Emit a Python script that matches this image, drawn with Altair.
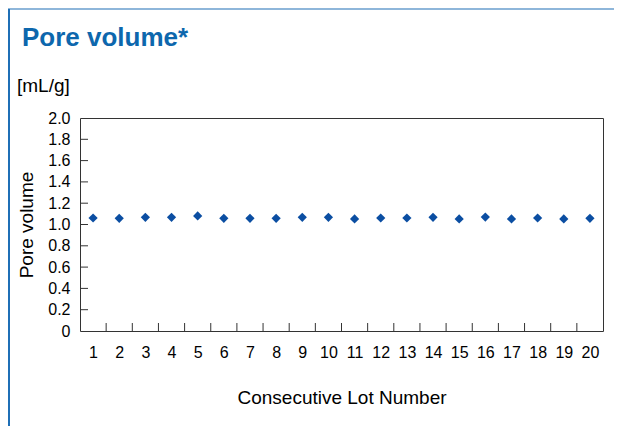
import altair as alt
import pandas as pd

# ---- data ----
lots = list(range(1, 21))
pore_volume = [1.061, 1.058, 1.067, 1.067, 1.080, 1.058, 1.058, 1.058, 1.067, 1.067,
               1.052, 1.061, 1.061, 1.067, 1.052, 1.070, 1.052, 1.061, 1.052, 1.058]
y_ticks = [0, 0.2, 0.4, 0.6, 0.8, 1.0, 1.2, 1.4, 1.6, 1.8, 2.0]
title_text = "Pore volume*"
unit_text = "[mL/g]"
x_title = "Consecutive Lot Number"
y_title = "Pore volume"

FONT = "Liberation Sans"
W, H = 523, 213

df = pd.DataFrame({"lot": lots, "pv": pore_volume})
xbound = pd.DataFrame({"b": [l + 0.5 for l in lots[:-1]]})
ytick_df = pd.DataFrame({"t": y_ticks[1:-1]})

xscale = alt.Scale(domain=[lots[0] - 0.5, lots[-1] + 0.5], nice=False, zero=False)
yscale = alt.Scale(domain=[y_ticks[0], y_ticks[-1]], nice=False)

xaxis = alt.Axis(values=lots, title=x_title, ticks=False, tickSize=0, grid=False,
                 domain=False, labelFontSize=16, labelPadding=13, labelColor="black",
                 labelFont=FONT, titleFont=FONT, titleFontSize=19, titleFontWeight="normal",
                 titleColor="black", titlePadding=28, labelAngle=0, labelOverlap=False,
                 labelFlush=False, labelBound=False)
yaxis = alt.Axis(values=y_ticks, title=y_title, ticks=False, tickSize=0, grid=False,
                 domain=False, labelFontSize=16, labelPadding=10, labelColor="black",
                 labelFont=FONT, titleFont=FONT, titleFontSize=19, titleFontWeight="normal",
                 titleColor="black", titlePadding=11, labelOverlap=False,
                 labelFlush=False, labelBound=False,
                 labelExpr="datum.value == 0 ? '0' : format(datum.value, '.1f')")

points = alt.Chart(df).mark_point(shape="diamond", filled=True, size=85, color="#0b4ea2",
                                  opacity=1).encode(
    x=alt.X("lot:Q", scale=xscale, axis=xaxis),
    y=alt.Y("pv:Q", scale=yscale, axis=yaxis),
)

xticks = alt.Chart(xbound).mark_rule(color="#333333", strokeWidth=1).encode(
    x=alt.X("b:Q", scale=xscale, axis=xaxis),
    y=alt.value(H), y2=alt.value(H - 8),
)

yticks = alt.Chart(ytick_df).mark_rule(color="#333333", strokeWidth=1).encode(
    y=alt.Y("t:Q", scale=yscale, axis=yaxis),
    x=alt.value(0), x2=alt.value(8),
)

one = pd.DataFrame({"k": [0]})
title_mark = alt.Chart(one).mark_text(text=title_text, font=FONT, fontSize=26, fontWeight="bold",
                                      color="#0d67ad", align="left", baseline="alphabetic").encode(
    x=alt.value(-58), y=alt.value(-72))
unit_mark = alt.Chart(one).mark_text(text=unit_text, font=FONT, fontSize=19, color="black",
                                     align="left", baseline="alphabetic").encode(
    x=alt.value(-63), y=alt.value(-26))

frame_top = alt.Chart(one).mark_rule(color="#1f6fb6", strokeWidth=1.2).encode(
    x=alt.value(-72), x2=alt.value(W + 11), y=alt.value(-109))
frame_left = alt.Chart(one).mark_rule(color="#1f6fb6", strokeWidth=2).encode(
    x=alt.value(-71), y=alt.value(-109), y2=alt.value(H + 95))

chart = alt.layer(points, yticks, xticks, frame_top, frame_left, title_mark, unit_mark).properties(
    width=W, height=H,
    autosize=alt.AutoSizeParams(type="none"),
    padding={"left": 72, "top": 110, "right": 11, "bottom": 95},
).configure(
    background="white",
    view=alt.ViewConfig(stroke="#333333", strokeWidth=1),
    axis=alt.AxisConfig(labelOverlap=False),
)

chart.save("out.html", embed_options={"renderer": "svg", "actions": False})
